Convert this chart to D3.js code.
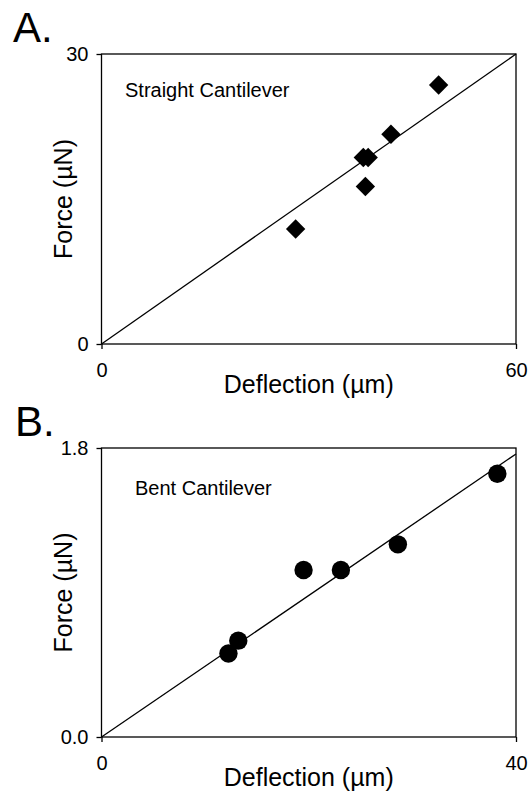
<!DOCTYPE html>
<html>
<head>
<meta charset="utf-8">
<script src="https://cdn.jsdelivr.net/npm/d3@7"></script>
<style>
    body { margin: 0; background: #fff; }
    svg text { font-family: Arial, 'Liberation Sans', sans-serif; fill: #000; }
</style>
</head>
<body>
<svg></svg>
<script>
const WIDTH = 529;
const HEIGHT = 791;

// panel A - straight cantilever
const straightDeflection = [28.1, 37.9, 38.6, 38.2, 41.9, 48.8];
const straightForce = [11.9, 19.3, 19.3, 16.3, 21.7, 26.8];
const straightFit = [[0, 0], [60, 30]];
const straightXTicks = [0, 60];
const straightYTicks = [0, 30];

// panel B - bent cantilever
const bentDeflection = [12.25, 13.2, 19.5, 23.1, 28.6, 38.2];
const bentForce = [0.52, 0.60, 1.04, 1.04, 1.20, 1.64];
const bentFit = [[0, 0], [40, 1.763]];
const bentXTicks = [0, 40];
const bentYTicks = [0, 1.8];

const plotLeft = 101.5;
const plotWidth = 414.5;

let svg = d3.select('svg')
    .attr('width', WIDTH)
    .attr('height', HEIGHT);

drawPanel({
    letter: 'A.', letterX: 13, letterY: 42,
    top: 54, height: 290,
    xs: straightDeflection, ys: straightForce, fit: straightFit,
    xTicks: straightXTicks, yTicks: straightYTicks, yFormat: d3.format('d'),
    label: 'Straight Cantilever', labelDx: 23.5, labelDy: 43,
    marker: 'diamond'
});

drawPanel({
    letter: 'B.', letterX: 15, letterY: 436,
    top: 448, height: 289,
    xs: bentDeflection, ys: bentForce, fit: bentFit,
    xTicks: bentXTicks, yTicks: bentYTicks, yFormat: d3.format('.1f'),
    label: 'Bent Cantilever', labelDx: 33.5, labelDy: 47,
    marker: 'circle'
});

function drawPanel(p){
    const x = d3.scaleLinear()
        .domain(d3.extent(p.xTicks))
        .range([plotLeft, plotLeft + plotWidth]);
    const y = d3.scaleLinear()
        .domain(d3.extent(p.yTicks))
        .range([p.top + p.height, p.top]);

    let g = svg.append('g');

    // panel letter
    g.append('text')
        .attr('x', p.letterX)
        .attr('y', p.letterY)
        .attr('font-size', 42)
        .text(p.letter);

    // axes, ticks only at the ends
    let xAxis = g.append('g')
        .attr('transform', `translate(0, ${p.top + p.height})`)
        .call(d3.axisBottom(x)
            .tickValues(p.xTicks)
            .tickFormat(d3.format('d'))
            .tickSize(5)
            .tickSizeOuter(0)
            .tickPadding(14));
    let yAxis = g.append('g')
        .attr('transform', `translate(${plotLeft}, 0)`)
        .call(d3.axisLeft(y)
            .tickValues(p.yTicks)
            .tickFormat(p.yFormat)
            .tickSize(5)
            .tickSizeOuter(0)
            .tickPadding(8));
    for(const axis of [xAxis, yAxis]){
        axis.select('.domain').remove();
        axis.selectAll('line').attr('stroke', '#000').attr('stroke-width', 1.3);
        axis.selectAll('text')
            .attr('font-size', 20)
            .attr('font-family', 'Arial, Liberation Sans, sans-serif');
    }

    // frame
    g.append('rect')
        .attr('x', plotLeft)
        .attr('y', p.top)
        .attr('width', plotWidth)
        .attr('height', p.height)
        .attr('fill', 'none')
        .attr('stroke', '#000')
        .attr('stroke-width', 1.3);

    // fit line
    g.append('path')
        .datum(p.fit)
        .attr('d', d3.line().x(d => x(d[0])).y(d => y(d[1])))
        .attr('fill', 'none')
        .attr('stroke', '#000')
        .attr('stroke-width', 1.3);

    // points
    const pts = p.xs.map((d, i) => ({x: d, y: p.ys[i]}));
    if(p.marker === 'diamond'){
        g.append('g')
            .selectAll('path')
            .data(pts)
            .enter()
            .append('path')
                .attr('d', d3.symbol(d3.symbolSquare, 188))
                .attr('transform', d => `translate(${x(d.x)}, ${y(d.y)}) rotate(45)`)
                .attr('fill', '#000');
    } else {
        g.append('g')
            .selectAll('circle')
            .data(pts)
            .enter()
            .append('circle')
                .attr('cx', d => x(d.x))
                .attr('cy', d => y(d.y))
                .attr('r', 9.2)
                .attr('fill', '#000');
    }

    // inset label
    g.append('text')
        .attr('x', plotLeft + p.labelDx)
        .attr('y', p.top + p.labelDy)
        .attr('font-size', 20)
        .text(p.label);

    // axis titles
    g.append('text')
        .attr('x', plotLeft + plotWidth / 2)
        .attr('y', p.top + p.height + 49)
        .attr('text-anchor', 'middle')
        .attr('font-size', 25)
        .text('Deflection (\u00b5m)');
    g.append('text')
        .attr('transform', `translate(72, ${p.top + p.height / 2}) rotate(-90)`)
        .attr('text-anchor', 'middle')
        .attr('font-size', 25)
        .text('Force (\u00b5N)');
}
</script>
</body>
</html>
